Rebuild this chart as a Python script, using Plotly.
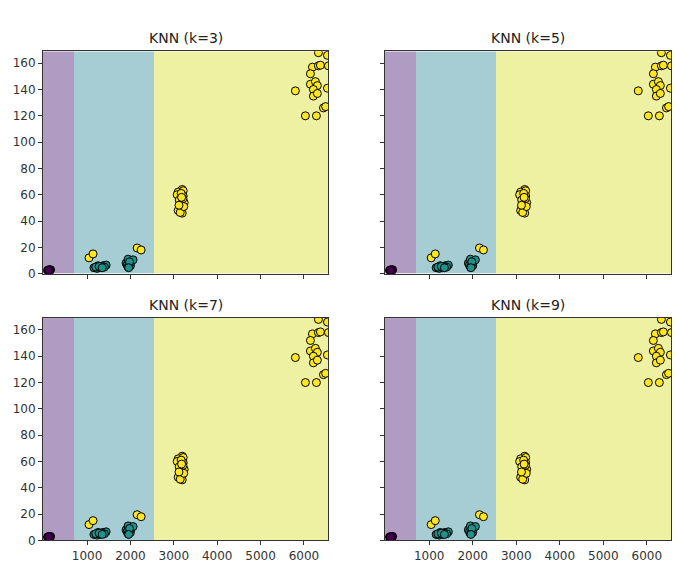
import plotly.graph_objects as go
from plotly.subplots import make_subplots

# ---- data ----
k_values = [3, 5, 7, 9]

# decision regions: x edges and predicted class in each band
region_x_edges = [-15, 700, 2545, 6555]
region_y_edges = [0, 169]
region_class = [0, 1, 2]

class0_x = [90, 120, 160, 140, 110]
class0_y = [2.5, 3.0, 3.0, 2.0, 2.5]

class1_x = [1160, 1230, 1254, 1300, 1370, 1440, 1400, 1330, 1200, 1280, 1350,
            1900, 1924, 1947, 1947, 2000, 2010, 2062, 1980, 1960]
class1_y = [4.5, 4.0, 6.0, 4.5, 6.0, 6.5, 5.0, 5.5, 5.0, 5.5, 4.5,
            8.0, 6.5, 11.0, 5.0, 6.0, 8.5, 10.5, 9.0, 4.5]

class2_x = [1046, 1139, 2155, 2247,
            3194, 3101, 3217, 3078, 3217, 3240, 3148, 3101, 3194, 3148, 3210, 3125,
            3170, 3230, 3120, 3180,
            6334, 6542, 6196, 6334, 6380, 6565, 6150, 6150, 6265, 6310, 6219, 6219,
            6310, 6542, 5803, 6034, 6288, 6450, 6500]
class2_y = [12, 15, 19.5, 18,
            64, 62, 63, 60, 59, 54, 49, 48, 46, 46.5, 57, 56,
            61, 51, 52, 58,
            168, 166, 157, 158, 158.5, 158, 152, 144, 146, 143, 140, 135,
            137, 141, 139, 120, 120, 126, 127]

x_ticks = [1000, 2000, 3000, 4000, 5000, 6000]
y_ticks = [0, 20, 40, 60, 80, 100, 120, 140, 160]

region_colors = ["#b09bc3", "#a6cdd3", "#eef0a2"]
point_colors = ["#440154", "#21918c", "#fde725"]

fig = make_subplots(rows=2, cols=2, horizontal_spacing=0.08, vertical_spacing=0.08)

cs = [[0, region_colors[0]], [1/3, region_colors[0]],
      [1/3, region_colors[1]], [2/3, region_colors[1]],
      [2/3, region_colors[2]], [1, region_colors[2]]]

classes = [(class0_x, class0_y), (class1_x, class1_y), (class2_x, class2_y)]

for i, k in enumerate(k_values):
    r, c = i // 2 + 1, i % 2 + 1
    fig.add_trace(go.Heatmap(x=region_x_edges, y=region_y_edges, z=[region_class],
                             colorscale=cs, zmin=0, zmax=2, showscale=False,
                             hoverinfo="skip", zsmooth=False), row=r, col=c)
    for ci, (xs, ys) in enumerate(classes):
        fig.add_trace(go.Scatter(x=xs, y=ys, mode="markers", showlegend=False,
                                 marker=dict(size=8, color=point_colors[ci],
                                             line=dict(color="black", width=1))),
                      row=r, col=c)

W, H = 681, 577
xdom = [(43 / W, 328 / W), (385 / W, 671 / W)]
ydom = [((H - 277) / H, (H - 52) / H), ((H - 547) / H, (H - 322) / H)]

axis_common = dict(showgrid=False, zeroline=False, showline=True, linecolor="#333",
                   linewidth=1, mirror=True, ticks="outside", ticklen=4,
                   tickcolor="#333", tickfont=dict(family="DejaVu Sans", size=12, color="#333"))

annotations = []
for i, k in enumerate(k_values):
    r, c = i // 2, i % 2
    n = i + 1
    xa = "xaxis" if n == 1 else f"xaxis{n}"
    ya = "yaxis" if n == 1 else f"yaxis{n}"
    fig.layout[xa].update(domain=list(xdom[c]), range=[region_x_edges[0], region_x_edges[-1]],
                          tickvals=x_ticks, showticklabels=(r == 1), **axis_common)
    fig.layout[ya].update(domain=list(ydom[r]), range=[region_y_edges[0], region_y_edges[-1]],
                          tickvals=y_ticks, showticklabels=(c == 0), **axis_common)
    annotations.append(dict(text=f"KNN (k={k})", xref="paper", yref="paper",
                            x=(xdom[c][0] + xdom[c][1]) / 2, y=ydom[r][1],
                            xanchor="center", yanchor="bottom", yshift=3, showarrow=False,
                            font=dict(family="DejaVu Sans", size=14, color="#222")))

fig.update_layout(width=W, height=H, margin=dict(l=0, r=0, t=0, b=0),
                  paper_bgcolor="white", plot_bgcolor="white",
                  annotations=annotations, showlegend=False)

fig.write_html("out.html")
